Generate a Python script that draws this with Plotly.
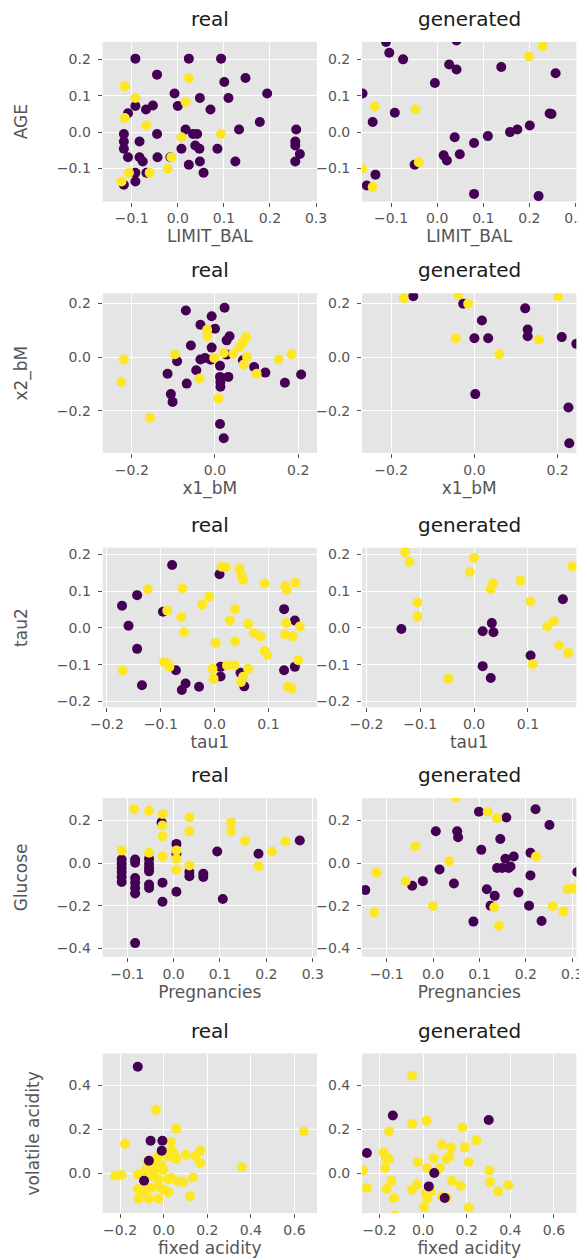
import plotly.graph_objects as go

W, H = 587, 1260
PURPLE = "#440154"
YELLOW = "#fde725"

# ---------------- Row 1: LIMIT_BAL vs AGE ----------------
r1_real_p_x = [-0.092, 0.024, 0.094, -0.045, 0.101, 0.147, 0.194, -0.007, 0.048, 0.110, 0.000, -0.054,
               -0.069, -0.092, -0.108, 0.071, 0.178, 0.133, 0.257, -0.117, -0.045, 0.017, 0.033, 0.042,
               -0.117, -0.083, 0.255, -0.117, 0.038, 0.047, 0.008, 0.086, 0.255, 0.265, -0.108, -0.083,
               -0.044, -0.076, -0.016, 0.048, 0.125, 0.255, 0.024, 0.056, -0.092, -0.068, -0.092, -0.117]
r1_real_p_y = [0.202, 0.202, 0.202, 0.158, 0.138, 0.149, 0.106, 0.106, 0.094, 0.094, 0.072, 0.073,
               0.062, 0.072, 0.052, 0.062, 0.028, 0.007, 0.007, -0.005, -0.005, 0.007, -0.005, -0.005,
               -0.026, -0.026, -0.026, -0.046, -0.037, -0.046, -0.046, -0.046, -0.037, -0.060, -0.069, -0.069,
               -0.069, -0.081, -0.069, -0.081, -0.081, -0.081, -0.090, -0.112, -0.112, -0.112, -0.136, -0.145]
r1_real_y_x = [-0.115, 0.024, -0.092, 0.017, -0.115, -0.068, 0.008, 0.094, -0.014, -0.022, -0.106, -0.061, -0.122]
r1_real_y_y = [0.126, 0.149, 0.094, 0.083, 0.039, 0.018, -0.014, -0.005, -0.069, -0.101, -0.112, -0.112, -0.136]

r1_gen_p_x = [-0.111, 0.042, -0.104, -0.074, 0.026, 0.042, 0.139, 0.257, -0.005, -0.162, -0.092, 0.248,
              -0.140, 0.201, 0.174, 0.158, 0.110, 0.038, 0.080, 0.014, 0.049, 0.021, -0.049, -0.134,
              -0.153, 0.080, 0.220, 0.244]
r1_gen_p_y = [0.248, 0.252, 0.218, 0.200, 0.186, 0.172, 0.179, 0.162, 0.135, 0.106, 0.053, 0.050,
              0.028, 0.018, 0.007, 0.000, -0.011, -0.014, -0.030, -0.064, -0.061, -0.078, -0.090, -0.117,
              -0.147, -0.170, -0.176, 0.051]
r1_gen_y_x = [0.229, 0.199, -0.135, -0.047, -0.040, -0.163, -0.140]
r1_gen_y_y = [0.237, 0.208, 0.071, 0.062, -0.083, -0.101, -0.151]

# ---------------- Row 2: x1_bM vs x2_bM ----------------
r2_real_p_x = [-0.070, 0.023, -0.008, -0.035, 0.000, 0.035, 0.028, -0.058, -0.008, 0.028, -0.024, -0.035,
               -0.010, 0.012, -0.091, 0.067, 0.094, -0.045, -0.114, 0.121, 0.207, 0.012, 0.032, 0.013,
               0.013, -0.068, 0.168, -0.106, -0.102, 0.012, 0.021]
r2_real_p_y = [0.173, 0.183, 0.152, 0.120, 0.105, 0.077, 0.062, 0.043, 0.035, 0.009, -0.004, -0.009,
               -0.010, -0.033, -0.016, -0.012, -0.037, -0.049, -0.062, -0.058, -0.065, -0.074, -0.074, -0.093,
               -0.111, -0.099, -0.096, -0.138, -0.167, -0.249, -0.302]
r2_real_y_x = [-0.019, -0.018, 0.075, 0.067, 0.059, -0.096, 0.021, 0.044, -0.002, 0.077, -0.219, 0.153,
               0.184, 0.069, 0.100, -0.037, -0.225, 0.008, -0.156]
r2_real_y_y = [0.101, 0.077, 0.074, 0.056, 0.037, 0.010, 0.015, 0.012, -0.004, 0.000, -0.009, -0.009,
               0.010, -0.028, -0.062, -0.080, -0.093, -0.154, -0.226]

r2_gen_p_x = [-0.147, -0.027, 0.018, 0.122, 0.128, 0.128, 0.000, 0.033, 0.210, 0.245, 0.002, 0.226, 0.228]
r2_gen_p_y = [0.226, 0.198, 0.136, 0.181, 0.102, 0.077, 0.070, 0.070, 0.074, 0.049, -0.138, -0.188, -0.321]
r2_gen_y_x = [-0.170, -0.039, -0.015, -0.045, 0.155, 0.060, 0.201]
r2_gen_y_y = [0.219, 0.231, 0.198, 0.070, 0.065, 0.010, 0.226]

# ---------------- Row 3: tau1 vs tau2 ----------------
r3_real_p_x = [-0.079, 0.009, -0.144, -0.172, -0.160, -0.096, -0.144, -0.072, -0.135, -0.054, -0.061, -0.029,
               0.011, 0.011, 0.048, 0.055, 0.129, 0.149, 0.129, 0.149]
r3_real_p_y = [0.171, 0.146, 0.089, 0.060, 0.006, 0.044, -0.057, -0.115, -0.156, -0.151, -0.169, -0.160,
               -0.106, -0.132, -0.122, -0.159, 0.051, 0.020, -0.115, -0.106]
r3_real_y_x = [-0.124, -0.060, 0.013, 0.021, 0.046, 0.050, 0.053, 0.093, 0.131, 0.134, 0.150, -0.010,
               -0.023, -0.088, -0.062, -0.057, 0.038, 0.028, 0.062, 0.073, 0.085, 0.133, 0.131, 0.145,
               0.158, 0.002, 0.038, 0.093, 0.098, 0.155, -0.171, -0.094, -0.087, -0.084, -0.004, -0.002,
               0.023, 0.037, 0.062, 0.053, 0.049, 0.136, 0.143]
r3_real_y_y = [0.105, 0.108, 0.166, 0.164, 0.161, 0.143, 0.130, 0.121, 0.114, 0.103, 0.123, 0.085,
               0.063, 0.047, 0.029, -0.012, 0.051, 0.020, 0.011, -0.014, -0.023, 0.013, -0.018, -0.023,
               0.004, -0.041, -0.037, -0.063, -0.073, -0.088, -0.115, -0.093, -0.097, -0.106, -0.111, -0.138,
               -0.102, -0.102, -0.111, -0.133, -0.147, -0.160, -0.165]

r3_gen_p_x = [-0.135, 0.033, 0.016, 0.036, 0.016, 0.031, 0.105, 0.165]
r3_gen_p_y = [-0.003, 0.013, -0.009, -0.012, -0.104, -0.136, -0.075, 0.078]
r3_gen_y_x = [-0.128, -0.120, 0.000, -0.008, 0.035, 0.031, -0.105, -0.105, 0.086, 0.105, 0.183, 0.148,
              0.136, 0.158, 0.175, 0.109, -0.048]
r3_gen_y_y = [0.206, 0.179, 0.191, 0.152, 0.121, 0.105, 0.069, 0.031, 0.128, 0.072, 0.167, 0.018,
              0.004, -0.048, -0.068, -0.099, -0.138]

# ---------------- Row 4: Pregnancies vs Glucose ----------------
r4_real_p_x = [-0.026, 0.006, 0.006, 0.006, 0.094, 0.272, 0.183, 0.106, 0.034, 0.034, 0.064, 0.064,
               -0.024, -0.024, -0.112, -0.112, -0.112, -0.112, -0.112, -0.112, -0.083, -0.083, -0.083, -0.083,
               -0.083, -0.083, -0.083, -0.053, -0.053, -0.053, -0.053, -0.053, -0.053]
r4_real_p_y = [0.191, 0.090, 0.044, -0.135, 0.054, 0.106, 0.044, -0.169, -0.042, -0.062, -0.050, -0.065,
               -0.092, -0.182, 0.016, -0.003, -0.023, -0.042, -0.065, -0.089, 0.017, 0.002, -0.070, -0.092,
               -0.117, -0.143, -0.376, 0.020, -0.003, -0.023, -0.039, -0.101, -0.117]
r4_real_y_x = [-0.085, -0.053, -0.024, -0.024, -0.024, -0.024, -0.112, -0.053, 0.006, 0.006, 0.006, 0.034,
               0.034, 0.034, 0.124, 0.124, 0.154, 0.183, 0.212, 0.241]
r4_real_y_y = [0.253, 0.246, 0.230, 0.176, 0.126, 0.031, 0.059, 0.048, 0.059, 0.020, -0.031, 0.214,
               0.149, -0.011, 0.191, 0.149, 0.103, -0.014, 0.054, 0.101]

r4_gen_p_x = [-0.146, -0.045, -0.022, 0.006, 0.014, 0.045, 0.052, 0.054, 0.087, 0.099, 0.104, 0.116,
              0.133, 0.124, 0.138, 0.145, 0.149, 0.156, 0.158, 0.163, 0.167, 0.174, 0.184, 0.207,
              0.210, 0.210, 0.221, 0.234, 0.251, 0.311]
r4_gen_p_y = [-0.127, -0.107, -0.085, 0.149, -0.030, -0.096, 0.149, 0.121, -0.275, 0.241, 0.062, -0.123,
              -0.154, -0.200, -0.023, 0.113, -0.023, 0.020, 0.214, -0.023, -0.016, 0.031, -0.138, -0.200,
              -0.058, 0.048, 0.253, -0.272, 0.179, -0.042]
r4_gen_y_x = [-0.122, -0.127, -0.059, -0.038, 0.000, 0.035, 0.049, 0.118, 0.138, 0.132, 0.142, 0.222,
              0.258, 0.281, 0.290, 0.300]
r4_gen_y_y = [-0.045, -0.232, -0.085, 0.079, -0.202, 0.009, 0.308, 0.241, 0.211, -0.208, -0.294, 0.031,
              -0.202, -0.228, -0.123, -0.120]

# ---------------- Row 5: fixed acidity vs volatile acidity ----------------
r5_real_p_x = [-0.119, -0.060, -0.006, -0.009, -0.068, -0.090]
r5_real_p_y = [0.485, 0.147, 0.147, 0.102, 0.056, -0.035]
r5_real_y_x = [-0.035, 0.057, -0.178, 0.032, 0.643, 0.359, -0.222, -0.193, 0.168, 0.168, 0.101, 0.146,
               0.135, 0.121, 0.047, 0.057, 0.021, -0.001, -0.024, -0.053, -0.082, -0.038, -0.001, -0.119,
               -0.090, -0.060, -0.024, 0.018, 0.035, 0.065, 0.091, -0.119, -0.090, -0.060, -0.024, -0.001,
               0.021, -0.115, -0.068, -0.024, -0.075, -0.046, -0.009, 0.035]
r5_real_y_y = [0.288, 0.202, 0.132, 0.141, 0.189, 0.026, -0.012, -0.008, 0.102, 0.045, 0.083, 0.076,
               -0.020, -0.106, 0.091, 0.064, 0.076, 0.091, 0.076, 0.061, 0.015, 0.015, 0.015, -0.008,
               0.003, -0.015, -0.027, -0.030, -0.023, -0.038, -0.041, -0.073, -0.083, -0.068, -0.061, -0.076,
               -0.088, -0.118, -0.118, -0.118, 0.053, 0.038, 0.035, 0.106]

r5_gen_p_x = [-0.139, 0.301, -0.258, 0.026, 0.099, 0.051]
r5_gen_p_y = [0.262, 0.242, 0.091, -0.061, -0.114, 0.000]
r5_gen_y_x = [-0.050, -0.050, 0.015, -0.156, 0.180, -0.182, -0.171, -0.156, -0.174, -0.258, -0.146, -0.168,
              -0.134, -0.130, -0.277, -0.025, -0.051, -0.028, 0.019, 0.048, 0.077, 0.063, 0.085, 0.128,
              0.107, 0.121, 0.133, 0.172, 0.191, 0.209, 0.245, 0.304, 0.307, 0.343, 0.391, 0.209,
              0.004, 0.019, 0.036, 0.012, 0.085, 0.109]
r5_gen_y_y = [0.444, 0.224, 0.238, 0.189, 0.208, 0.094, 0.068, 0.064, 0.023, -0.068, -0.035, -0.073,
              -0.114, -0.194, 0.012, 0.050, -0.076, -0.053, 0.023, 0.068, 0.023, 0.008, 0.129, 0.117,
              0.064, 0.076, -0.035, -0.058, 0.117, 0.050, 0.149, 0.011, -0.041, -0.084, -0.056, -0.157,
              -0.155, -0.116, -0.084, -0.091, -0.106, -0.114]

x_labels = ["LIMIT_BAL", "x1_bM", "tau1", "Pregnancies", "fixed acidity"]
y_labels = ["AGE", "x2_bM", "tau2", "Glucose", "volatile acidity"]
col_titles = ["real", "generated"]

x_ranges = [[-0.163, 0.302], [-0.27, 0.245], [-0.208, 0.19], [-0.153, 0.309], [-0.28, 0.703]]
y_ranges = [[-0.191, 0.248], [-0.357, 0.237], [-0.216, 0.218], [-0.44, 0.305], [-0.183, 0.545]]
x_ticks = [[-0.1, 0.0, 0.1, 0.2, 0.3], [-0.2, 0.0, 0.2], [-0.2, -0.1, 0.0, 0.1],
           [-0.1, 0.0, 0.1, 0.2, 0.3], [-0.2, 0.0, 0.2, 0.4, 0.6]]
y_ticks = [[-0.1, 0.0, 0.1, 0.2], [-0.2, 0.0, 0.2], [-0.2, -0.1, 0.0, 0.1, 0.2],
           [-0.4, -0.2, 0.0, 0.2], [0.0, 0.2, 0.4]]

data = [
    [(r1_real_p_x, r1_real_p_y, r1_real_y_x, r1_real_y_y), (r1_gen_p_x, r1_gen_p_y, r1_gen_y_x, r1_gen_y_y)],
    [(r2_real_p_x, r2_real_p_y, r2_real_y_x, r2_real_y_y), (r2_gen_p_x, r2_gen_p_y, r2_gen_y_x, r2_gen_y_y)],
    [(r3_real_p_x, r3_real_p_y, r3_real_y_x, r3_real_y_y), (r3_gen_p_x, r3_gen_p_y, r3_gen_y_x, r3_gen_y_y)],
    [(r4_real_p_x, r4_real_p_y, r4_real_y_x, r4_real_y_y), (r4_gen_p_x, r4_gen_p_y, r4_gen_y_x, r4_gen_y_y)],
    [(r5_real_p_x, r5_real_p_y, r5_real_y_x, r5_real_y_y), (r5_gen_p_x, r5_gen_p_y, r5_gen_y_x, r5_gen_y_y)],
]

# pixel layout of plot areas
col_px = [(85, 308), (355, 578)]
row_px = [(33, 193), (285, 445), (540, 700), (791, 950), (1047, 1207)]

fig = go.Figure()
layout = dict(
    width=W, height=H, margin=dict(l=0, r=0, t=0, b=0),
    paper_bgcolor="white", plot_bgcolor="#E5E5E5", showlegend=False,
    font=dict(family="DejaVu Sans", color="#555555", size=14),
)
annotations = []
TICK_FONT = dict(family="DejaVu Sans", size=14, color="#555555")
LAB_FONT = dict(family="DejaVu Sans", size=17, color="#555555")

k = 0
for r in range(5):
    for c in range(2):
        k += 1
        xa = "x" if k == 1 else f"x{k}"
        ya = "y" if k == 1 else f"y{k}"
        px, py, yx, yy = data[r][c]
        traces = [(px, py, PURPLE), (yx, yy, YELLOW)]
        if r == 4:
            traces = traces[::-1]
        for tx, ty, col in traces:
            fig.add_trace(go.Scatter(x=tx, y=ty, mode="markers", xaxis=xa, yaxis=ya,
                                     marker=dict(size=10, color=col, line=dict(width=0)),
                                     cliponaxis=True, hoverinfo="skip"))
        x0, x1 = col_px[c]
        y0, y1 = row_px[r]
        xdom = [x0 / W, x1 / W]
        ydom = [1 - y1 / H, 1 - y0 / H]
        common = dict(showgrid=True, gridcolor="white", gridwidth=1.4, zeroline=False,
                      ticks="outside", ticklen=4, tickwidth=1, tickcolor="#555555",
                      tickfont=TICK_FONT, tickformat=".1f", showline=False)
        layout["xaxis" if k == 1 else f"xaxis{k}"] = dict(
            domain=xdom, range=x_ranges[r], tickvals=x_ticks[r], anchor=ya,
            title=dict(text=x_labels[r], font=LAB_FONT, standoff=4), **common)
        layout["yaxis" if k == 1 else f"yaxis{k}"] = dict(
            domain=ydom, range=y_ranges[r], tickvals=y_ticks[r], anchor=xa,
            ticklabelstandoff=4,
            title=dict(text=y_labels[r] if c == 0 else "", font=LAB_FONT, standoff=24), **common)
        annotations.append(dict(text=col_titles[c], xref="paper", yref="paper",
                                x=(xdom[0] + xdom[1]) / 2, y=ydom[1], xanchor="center", yanchor="bottom",
                                yshift=9, showarrow=False,
                                font=dict(family="DejaVu Sans", size=20, color="#1a1a1a")))

layout["annotations"] = annotations
fig.update_layout(**layout)
fig.write_html("out.html")
